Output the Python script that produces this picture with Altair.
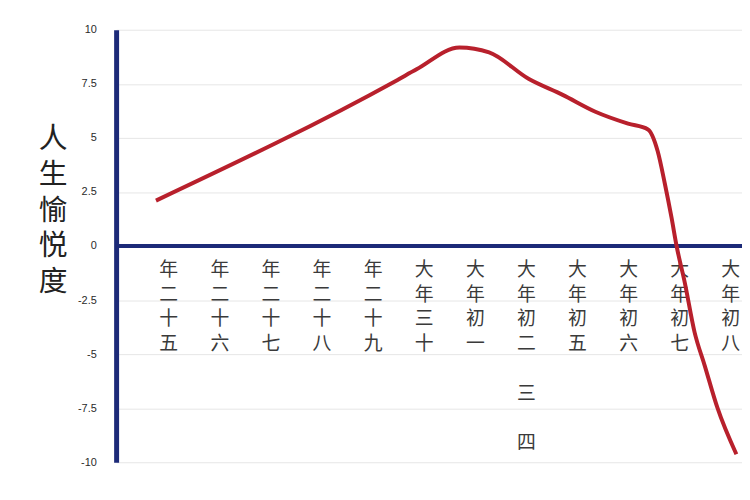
import altair as alt
import pandas as pd

# Category labels (x axis), written vertically
categories = ["年二十五", "年二十六", "年二十七", "年二十八", "年二十九", "大年三十",
              "大年初一", "大年初二 三 四", "大年初五", "大年初六", "大年初七", "大年初八"]

# Red curve, position along the category axis (fractional category index) and value
curve_x = [-0.25, 4.47, 4.85, 5.69, 6.27, 7.05, 7.71, 8.35, 8.99, 9.38, 9.57,
           9.71, 9.84, 9.94, 10.10, 10.29, 10.49, 10.74, 11.11]
curve_y = [2.10, 7.67, 8.17, 9.18, 8.95, 7.72, 6.99, 6.21, 5.66, 5.39, 4.38,
           2.88, 1.32, 0.0, -1.69, -3.97, -5.53, -7.49, -9.63]

y_ticks = [-10, -7.5, -5, -2.5, 0, 2.5, 5, 7.5, 10]

NAVY = "#1c2a78"
CJK = "Noto Sans CJK SC"
BLANK = "\u2800"  # blank glyph that is not trimmed as whitespace

labels_df = pd.DataFrame({
    "idx": list(range(len(categories))),
    "lines": [[c if c != " " else BLANK for c in cat] for cat in categories],
})
curve_df = pd.DataFrame({"x": curve_x, "v": curve_y})

xscale = alt.Scale(domain=[-1.03, 11.22], nice=False, zero=False)
yscale = alt.Scale(domain=[-10, 10], nice=False)

yaxis = alt.Axis(
    values=y_ticks,
    labelExpr="datum.value",
    labelFontSize=11,
    labelColor="#2a2a2a",
    labelFont="Liberation Sans",
    labelPadding=20,
    ticks=False,
    domain=True,
    domainColor=NAVY,
    domainWidth=5,
    grid=True,
    gridColor="#e6e6e6",
    gridWidth=1,
    title=["人", "生", "愉", "悦", "度"],
    titleAngle=0,
    titleFont=CJK,
    titleFontSize=29,
    titleFontWeight="normal",
    titleLineHeight=36,
    titleColor="#222222",
    titleAlign="center",
    titleBaseline="top",
    titleX=-64,
    titleY=96,
)

base_grid = alt.Chart(curve_df).mark_line(opacity=0).encode(
    x=alt.X("x:Q", scale=xscale, axis=None),
    y=alt.Y("v:Q", scale=yscale, axis=yaxis),
)

zero_rule = alt.Chart(curve_df).mark_rule(color=NAVY, strokeWidth=4).encode(
    y=alt.datum(0)
)

curve = alt.Chart(curve_df).mark_line(
    color="#b8202c", strokeWidth=4, interpolate="monotone"
).encode(
    x=alt.X("x:Q", scale=xscale, axis=None),
    y=alt.Y("v:Q", scale=yscale),
)

labels = alt.Chart(labels_df).mark_text(
    font=CJK, fontSize=19, color="#3a3a3a", baseline="top", align="center",
    lineHeight=25, dy=15
).encode(
    x=alt.X("idx:Q", scale=xscale, axis=None),
    y=alt.datum(0),
    text=alt.Text("lines:N"),
)

chart = alt.layer(base_grid, zero_rule, labels, curve).properties(
    width=631,
    height=436,
    autosize=alt.AutoSizeParams(type="none"),
    padding={"left": 109, "top": 20, "right": 0, "bottom": 20},
    background="white",
).configure_view(stroke=None)

chart.save("out.html", embed_options={"renderer": "svg", "actions": False})
